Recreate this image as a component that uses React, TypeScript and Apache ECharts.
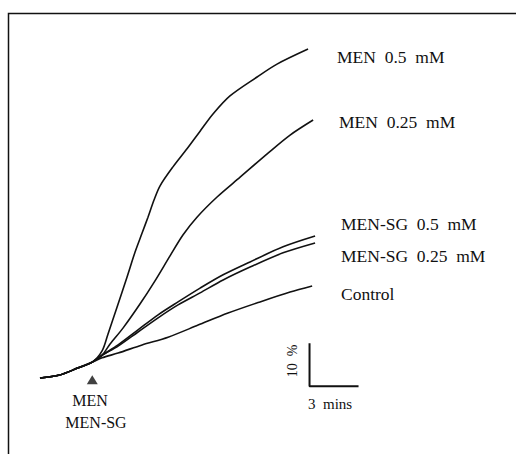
import React, { useEffect, useRef } from 'react';
import * as echarts from 'echarts';

// time in minutes, response in %
const baselineTime = [0, 1.2, 2.3, 3.2];
const baselineValue = [0, 0.7, 2.3, 3.7];

const men05Time = [3.8, 4.16, 4.72, 5.33, 5.82, 6.25, 6.61, 6.98, 7.35, 8.14, 9.0, 9.8, 10.59, 11.63, 13.29, 14.51, 16.41];
const men05Value = [6.3, 10.2, 16.5, 23.5, 29.3, 33.7, 37.4, 41.4, 44.7, 49.1, 53.3, 57.4, 61.4, 65.6, 70.0, 73.0, 76.5];

const men025Time = [3.8, 4.29, 5.08, 6.12, 7.04, 7.96, 8.76, 9.61, 10.84, 12.25, 13.96, 15.31, 16.72];
const men025Value = [5.3, 7.9, 11.6, 17.2, 22.6, 28.4, 33.3, 37.4, 42.1, 46.7, 52.3, 56.5, 60.0];

const sg05Time = [3.8, 4.78, 6.0, 7.23, 8.45, 9.8, 11.21, 12.86, 14.88, 16.84];
const sg05Value = [5.3, 7.7, 11.2, 14.7, 17.7, 20.9, 24.0, 27.0, 30.5, 33.0];

const sg025Time = [3.8, 4.78, 6.0, 7.23, 8.45, 9.8, 11.21, 12.86, 14.88, 16.84];
const sg025Value = [5.3, 7.4, 10.7, 14.0, 17.0, 19.8, 22.8, 25.8, 29.1, 31.4];

const controlTime = [3.8, 4.78, 6.25, 7.84, 9.68, 11.51, 13.47, 15.31, 16.66];
const controlValue = [4.7, 5.8, 7.7, 9.5, 12.3, 15.1, 17.7, 20.0, 21.4];

const seriesNames = ['MEN  0.5  mM', 'MEN  0.25  mM', 'MEN-SG  0.5  mM', 'MEN-SG  0.25  mM', 'Control'];

const injectionMarker = [3.2, -0.4];
const scaleBarOrigin = [16.5, -1.9];
const scaleBarMinutes = 3;
const scaleBarPercent = 10;

const zip = (t: number[], v: number[]) => t.map((x, i) => [x, v[i]]);
const withBaseline = (t: number[], v: number[]) => [...zip(baselineTime, baselineValue), ...zip(t, v)];

const FONT = '"Liberation Serif", "Times New Roman", serif';
const INK = '#111';

export default function App() {
  const ref = useRef<HTMLDivElement>(null);
  useEffect(() => {
    if (!ref.current) return;
    const chart = echarts.init(ref.current, undefined, { renderer: 'svg' });
    const curves = [
      withBaseline(men05Time, men05Value),
      withBaseline(men025Time, men025Value),
      withBaseline(sg05Time, sg05Value),
      withBaseline(sg025Time, sg025Value),
      withBaseline(controlTime, controlValue),
    ];
    const labelPos = [
      [337, 57],
      [339, 122],
      [341, 224],
      [341, 256],
      [341, 294],
    ];
    const scaleBar = [
      [scaleBarOrigin[0], scaleBarOrigin[1] + scaleBarPercent],
      [scaleBarOrigin[0], scaleBarOrigin[1]],
      [scaleBarOrigin[0] + scaleBarMinutes, scaleBarOrigin[1]],
    ];
    chart.setOption({
      animation: false,
      backgroundColor: '#fff',
      grid: { left: 40, right: 149.3, top: 34, bottom: 33 },
      xAxis: { type: 'value', min: 0, max: 20, show: false },
      yAxis: { type: 'value', min: -10, max: 80, show: false },
      series: [
        ...curves.map((d, i) => ({
          type: 'line',
          name: seriesNames[i],
          data: d,
          smooth: 0.3,
          showSymbol: false,
          clip: false,
          lineStyle: { color: INK, width: 1.6 },
        })),
        {
          type: 'line',
          name: 'scale',
          data: scaleBar,
          showSymbol: false,
          clip: false,
          lineStyle: { color: INK, width: 2 },
        },
        {
          type: 'scatter',
          name: 'MEN addition',
          data: [injectionMarker],
          symbol: 'triangle',
          symbolSize: [11, 9],
          itemStyle: { color: INK },
        },
      ],
      graphic: [
        {
          type: 'rect',
          shape: { x: 8.5, y: 13.5, width: 700, height: 700 },
          style: { fill: 'none', stroke: INK, lineWidth: 1.5 },
          silent: true,
        },
        ...seriesNames.map((n, i) => ({
          type: 'text',
          x: labelPos[i][0],
          y: labelPos[i][1],
          style: { text: n, font: `17.5px ${FONT}`, fill: INK, textVerticalAlign: 'middle', textAlign: 'left' },
        })),
        {
          type: 'text',
          x: 90,
          y: 400,
          style: { text: 'MEN', font: `16px ${FONT}`, fill: INK, textAlign: 'center', textVerticalAlign: 'middle' },
        },
        {
          type: 'text',
          x: 96,
          y: 422,
          style: { text: 'MEN-SG', font: `16px ${FONT}`, fill: INK, textAlign: 'center', textVerticalAlign: 'middle' },
        },
        {
          type: 'text',
          x: 308,
          y: 404,
          style: { text: '3  mins', font: `15px ${FONT}`, fill: INK, textAlign: 'left', textVerticalAlign: 'middle' },
        },
        {
          type: 'text',
          x: 292,
          y: 361,
          rotation: Math.PI / 2,
          style: { text: '10  %', font: `14px ${FONT}`, fill: INK, textAlign: 'center', textVerticalAlign: 'middle' },
        },
      ],
    });
    return () => chart.dispose();
  }, []);
  return <div ref={ref} style={{ position: 'fixed', left: 0, top: 0, width: 516, height: 454 }} />;
}
